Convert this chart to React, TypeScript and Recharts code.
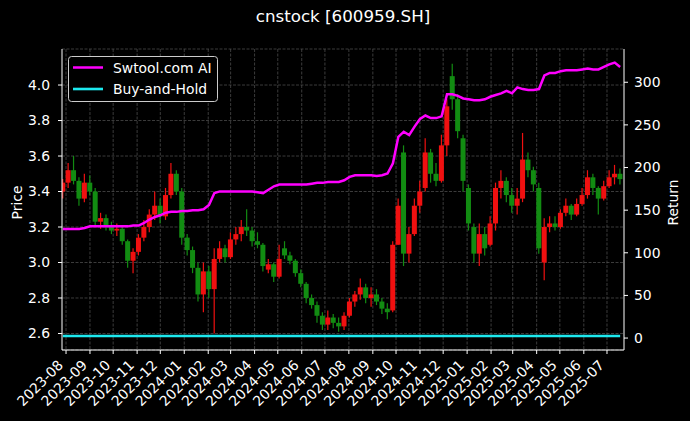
import React from "react";
import { ComposedChart, Bar, Line, XAxis, YAxis, CartesianGrid } from "recharts";

// weekly candles, first week starting 2023-07-28
const firstWeek = "2023-07-28";
const opens = [
  3.40, 3.45, 3.52, 3.46, 3.36, 3.45, 3.40, 3.23, 3.25, 3.21,
  3.18, 3.19, 3.12, 3.01, 3.06, 3.14, 3.20, 3.27, 3.32, 3.26,
  3.38, 3.50, 3.40, 3.14, 3.07, 2.97, 2.82, 2.95, 2.85, 3.02,
  3.08, 3.03, 3.13, 3.16, 3.20, 3.18, 3.12, 3.10, 2.96, 2.99,
  2.92, 3.08, 3.04, 3.01, 2.94, 2.88, 2.80, 2.76, 2.70, 2.65,
  2.69, 2.66, 2.64, 2.70, 2.78, 2.82, 2.86, 2.80, 2.82, 2.78,
  2.74, 2.73, 3.10, 3.62, 3.05, 3.16, 3.32, 3.42, 3.62, 3.50,
  3.46, 3.66, 4.05, 3.92, 3.70, 3.42, 3.20, 3.05, 3.16, 3.10,
  3.22, 3.42, 3.46, 3.38, 3.32, 3.36, 3.58, 3.52, 3.42, 3.00,
  3.20, 3.22, 3.20, 3.28, 3.32, 3.27, 3.33, 3.38, 3.48, 3.42,
  3.36, 3.43, 3.48, 3.50,
];
const highs = [
  3.47, 3.56, 3.60, 3.48, 3.50, 3.49, 3.42, 3.28, 3.27, 3.23,
  3.22, 3.20, 3.13, 3.08, 3.16, 3.24, 3.30, 3.40, 3.36, 3.42,
  3.56, 3.52, 3.42, 3.16, 3.09, 3.00, 3.00, 2.98, 3.08, 3.12,
  3.10, 3.17, 3.20, 3.24, 3.30, 3.20, 3.17, 3.11, 3.02, 3.00,
  3.10, 3.12, 3.06, 3.02, 2.96, 2.89, 2.82, 2.78, 2.72, 2.73,
  2.71, 2.69, 2.72, 2.80, 2.84, 2.91, 2.88, 2.86, 2.85, 2.80,
  2.77, 3.12, 3.36, 3.66, 3.20, 3.36, 3.46, 3.70, 3.64, 3.56,
  3.72, 3.92, 4.12, 3.95, 3.72, 3.44, 3.22, 3.22, 3.20, 3.26,
  3.45, 3.52, 3.48, 3.42, 3.42, 3.73, 3.62, 3.54, 3.45, 3.25,
  3.26, 3.26, 3.30, 3.36, 3.33, 3.36, 3.42, 3.52, 3.50, 3.43,
  3.46, 3.52, 3.55, 3.53,
];
const lows = [
  3.36, 3.42, 3.44, 3.32, 3.34, 3.38, 3.20, 3.19, 3.18, 3.16,
  3.15, 3.10, 2.97, 2.94, 3.04, 3.12, 3.17, 3.24, 3.22, 3.24,
  3.36, 3.38, 3.10, 3.04, 2.94, 2.78, 2.72, 2.80, 2.60, 3.00,
  3.00, 3.02, 3.10, 3.12, 3.15, 3.09, 3.08, 2.95, 2.94, 2.89,
  2.91, 3.02, 2.99, 2.92, 2.86, 2.77, 2.74, 2.66, 2.62, 2.62,
  2.63, 2.61, 2.62, 2.69, 2.75, 2.79, 2.77, 2.75, 2.76, 2.71,
  2.68, 2.72, 3.10, 2.98, 3.00, 3.15, 3.28, 3.40, 3.45, 3.43,
  3.45, 3.60, 3.86, 3.70, 3.40, 3.18, 3.00, 2.98, 3.04, 3.09,
  3.18, 3.36, 3.34, 3.28, 3.27, 3.34, 3.48, 3.40, 3.05, 2.90,
  3.17, 3.18, 3.19, 3.26, 3.24, 3.26, 3.32, 3.36, 3.38, 3.27,
  3.35, 3.42, 3.44, 3.44,
];
const closes = [
  3.45, 3.52, 3.46, 3.36, 3.45, 3.40, 3.23, 3.25, 3.21, 3.18,
  3.19, 3.12, 3.01, 3.06, 3.14, 3.20, 3.27, 3.32, 3.26, 3.38,
  3.50, 3.40, 3.14, 3.07, 2.97, 2.82, 2.95, 2.85, 3.02, 3.08,
  3.03, 3.13, 3.16, 3.20, 3.18, 3.12, 3.10, 2.98, 2.99, 2.92,
  3.02, 3.04, 3.01, 2.94, 2.88, 2.80, 2.76, 2.70, 2.65, 2.69,
  2.66, 2.64, 2.70, 2.78, 2.82, 2.86, 2.80, 2.82, 2.78, 2.74,
  2.72, 3.10, 3.32, 3.05, 3.16, 3.32, 3.40, 3.62, 3.50, 3.46,
  3.66, 3.88, 3.92, 3.74, 3.46, 3.22, 3.05, 3.16, 3.08, 3.22,
  3.42, 3.46, 3.38, 3.32, 3.36, 3.58, 3.52, 3.44, 3.08, 3.20,
  3.22, 3.20, 3.28, 3.32, 3.27, 3.33, 3.38, 3.48, 3.42, 3.36,
  3.43, 3.48, 3.50, 3.47,
];
const aiReturn = [
  128, 128, 128, 128, 129, 131, 131, 131, 131, 131,
  131, 131, 131, 132, 132, 135, 139, 142, 144, 147,
  148, 148, 149, 149, 150, 150, 151, 156, 170, 172,
  172, 172, 172, 172, 172, 172, 171, 170, 174, 178,
  180, 180, 180, 180, 180, 180, 181, 182, 182, 183,
  183, 183, 185, 189, 191, 191, 191, 191, 190, 191,
  193, 205, 236, 242, 238, 248, 257, 261, 258, 258,
  260, 286, 286, 284, 281, 280, 279, 279, 280, 283,
  285, 287, 290, 287, 294, 292, 291, 291, 292, 308,
  311, 311, 313, 314, 314, 314, 315, 316, 315, 315,
  318, 321, 323, 318,
];
// buy-and-hold stays flat: value at the first and last week
const buyHold = [2.5, 2.5];

const monthLabels = [
  "2023-08", "2023-09", "2023-10", "2023-11", "2023-12",
  "2024-01", "2024-02", "2024-03", "2024-04", "2024-05", "2024-06",
  "2024-07", "2024-08", "2024-09", "2024-10", "2024-11", "2024-12",
  "2025-01", "2025-02", "2025-03", "2025-04", "2025-05", "2025-06", "2025-07",
];
const priceTicks = [2.6, 2.8, 3.0, 3.2, 3.4, 3.6, 3.8, 4.0];
const returnTicks = [0, 50, 100, 150, 200, 250, 300];

const DAY = 86400000;
const base = Date.UTC(2023, 7, 1);
const dayOf = (s: string) => {
  const [y, m, d] = s.split("-").map(Number);
  return (Date.UTC(y, m - 1, d || 1) - base) / DAY;
};

const monthTicks = monthLabels.map((m) => dayOf(m));
const tickLabel: Record<number, string> = {};
monthLabels.forEach((m, i) => (tickLabel[monthTicks[i]] = m));

const start = dayOf(firstWeek);
const table = opens.map((o, i) => ({
  t: start + 7 * i,
  open: o,
  high: highs[i],
  low: lows[i],
  close: closes[i],
  range: [lows[i], highs[i]],
  ai: aiReturn[i],
  bh: i === 0 ? buyHold[0] : i === opens.length - 1 ? buyHold[1] : undefined,
}));

const FONT = "DejaVu Sans";
const FS = 13.9;

const Candle = (props: any) => {
  const { x, y, width, height, payload } = props;
  if (!payload || height == null) return null;
  const top = Math.min(y, y + height);
  const h = Math.abs(height);
  const span = payload.high - payload.low;
  const ppu = span > 0 ? h / span : 0;
  const up = payload.close >= payload.open;
  const color = up ? "#f01010" : "#128c12";
  const bodyTop = top + (payload.high - Math.max(payload.open, payload.close)) * ppu;
  const bodyH = Math.max(1, Math.abs(payload.close - payload.open) * ppu);
  const cx = x + width / 2;
  return (
    <g>
      <line x1={cx} x2={cx} y1={top} y2={top + h} stroke={color} strokeWidth={1.2} />
      <rect x={x} y={bodyTop} width={width} height={bodyH} fill={color} />
    </g>
  );
};

const DateTick = ({ x, y, payload }: any) => (
  <text
    transform={`translate(${x - 2},${y + 10}) rotate(-45)`}
    textAnchor="end"
    fill="#fff"
    fontSize={FS}
    fontFamily={FONT}
  >
    {tickLabel[payload.value]}
  </text>
);

const App = () => {
  const tickStyle = { fill: "#fff", fontSize: FS, fontFamily: FONT };
  return (
    <div style={{ position: "absolute", left: 0, top: 0, width: 690, height: 421, background: "#000" }}>
      <ComposedChart width={690} height={421} data={table} margin={{ top: 49, right: 0, bottom: 0, left: 0 }}>
        <CartesianGrid
          yAxisId="price"
          stroke="#555"
          strokeWidth={0.7}
          strokeDasharray="3 1.5"
          verticalValues={monthTicks}
        />
        <XAxis
          dataKey="t"
          type="number"
          domain={[-5.2, 722]}
          ticks={monthTicks}
          interval={0}
          allowDataOverflow
          height={71}
          tick={<DateTick />}
          tickSize={4}
          tickLine={{ stroke: "#fff" }}
          axisLine={{ stroke: "#fff" }}
        />
        <XAxis
          xAxisId="top"
          orientation="top"
          dataKey="t"
          type="number"
          domain={[-5.2, 722]}
          height={0}
          tick={false}
          tickLine={false}
          axisLine={{ stroke: "#fff" }}
        />
        <YAxis
          yAxisId="price"
          width={62}
          domain={[2.507, 4.203]}
          allowDataOverflow
          ticks={priceTicks}
          interval={0}
          tickFormatter={(v: number) => v.toFixed(1)}
          tick={tickStyle}
          tickSize={4}
          tickMargin={8}
          tickLine={{ stroke: "#fff" }}
          axisLine={{ stroke: "#fff" }}
        />
        <YAxis
          yAxisId="ret"
          orientation="right"
          width={66}
          domain={[-14, 339]}
          allowDataOverflow
          ticks={returnTicks}
          interval={0}
          tick={tickStyle}
          tickSize={4}
          tickMargin={6}
          tickLine={{ stroke: "#fff" }}
          axisLine={{ stroke: "#fff" }}
        />
        <Bar
          yAxisId="price"
          dataKey="range"
          barSize={5}
          shape={<Candle />}
          isAnimationActive={false}
        />
        <Line
          yAxisId="ret"
          dataKey="ai"
          stroke="#ff00ff"
          strokeWidth={2.5}
          dot={false}
          isAnimationActive={false}
        />
        <Line
          yAxisId="ret"
          dataKey="bh"
          stroke="#1de9ef"
          strokeWidth={2.6}
          dot={false}
          connectNulls
          isAnimationActive={false}
        />
      </ComposedChart>
      <svg
        width={690}
        height={421}
        style={{ position: "absolute", left: 0, top: 0, pointerEvents: "none" }}
        fontFamily={FONT}
      >
        <text x={343} y={22} textAnchor="middle" fill="#fff" fontSize={16.7}>
          cnstock [600959.SH]
        </text>
        <text transform="translate(22,202.5) rotate(-90)" textAnchor="middle" fill="#fff" fontSize={FS}>
          Price
        </text>
        <text transform="translate(678,202.5) rotate(-90)" textAnchor="middle" fill="#fff" fontSize={FS}>
          Return
        </text>
        <rect x={68.5} y={56.5} width={149} height={45} rx={3} fill="#000" stroke="#cccccc" strokeWidth={1} />
        <line x1={73} x2={103} y1={67.5} y2={67.5} stroke="#ff00ff" strokeWidth={2.5} />
        <line x1={73} x2={103} y1={89} y2={89} stroke="#1de9ef" strokeWidth={2.6} />
        <text x={113} y={72.5} fill="#fff" fontSize={FS}>Swtool.com AI</text>
        <text x={113} y={94} fill="#fff" fontSize={FS}>Buy-and-Hold</text>
      </svg>
    </div>
  );
};

export default App;
